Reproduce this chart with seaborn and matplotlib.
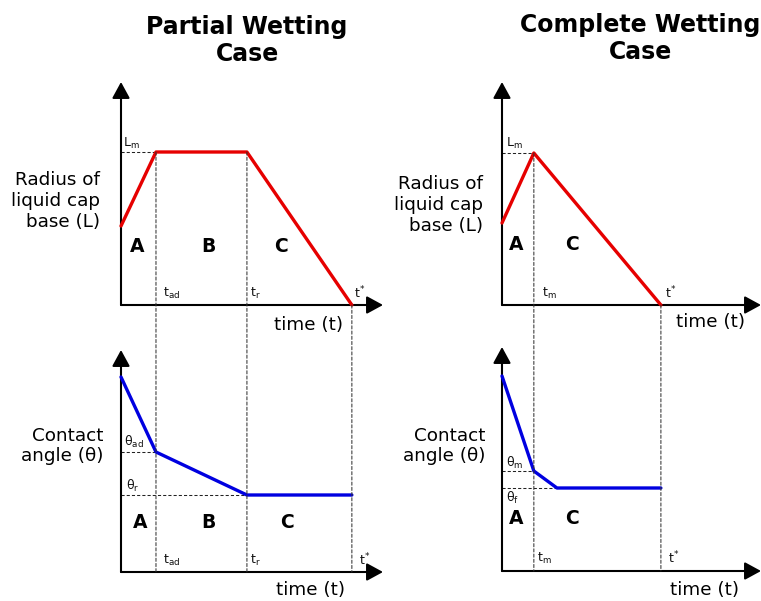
import matplotlib
matplotlib.use("Agg")
import matplotlib.pyplot as plt
import seaborn as sns
import pandas as pd
from matplotlib.patches import ConnectionPatch

# ---------------- data (arbitrary schematic units) ----------------
# Partial wetting case
pw_time = [0.0, 1.0, 3.6, 6.6]          # 0, t_ad, t_r, t*
pw_L = [0.79, 1.53, 1.53, 0.0]           # radius of liquid cap base
pw_theta = [1.95, 1.20, 0.77, 0.77]      # contact angle
pw_xmax = 7.49

# Complete wetting case
cw_time_L = [0.0, 0.91, 4.54]            # 0, t_m, t*
cw_L = [0.82, 1.52, 0.0]
cw_time_theta = [0.0, 0.91, 1.57, 4.54]
cw_theta = [1.95, 1.00, 0.83, 0.83]
cw_xmax = 7.4

pw_regions = ["A", "B", "C"]
cw_regions = ["A", "C"]
pw_tick_labels = [r"$t_{ad}$", r"$t_r$", r"$t^{*}$"]
cw_tick_labels = [r"$t_m$", r"$t^{*}$"]

# ---------------- style ----------------
sns.set_theme(style="white")
plt.rcParams["font.family"] = ["DejaVu Sans"]
plt.rcParams["mathtext.default"] = "regular"
plt.rcParams["text.color"] = "black"

RED = "#e60000"
BLUE = "#0000e0"
DASH = dict(color="#222222", lw=0.75, linestyle=(0, (3, 2)))
W, H = 761, 601
fig = plt.figure(figsize=(W / 100, H / 100), dpi=100)


def add_ax(left, bottom_px, right, top_px):
    # pixel box (top-down y) -> figure fraction
    return fig.add_axes([left / W, (H - bottom_px) / H, (right - left) / W, (bottom_px - top_px) / H])


def arrows(ax):
    kw = dict(arrowstyle="-|>,head_length=0.55,head_width=0.3", mutation_scale=18,
              lw=1.5, color="black", shrinkA=0, shrinkB=0)
    ax.annotate("", xy=(1, 0), xytext=(0, 0), xycoords="axes fraction",
                textcoords="axes fraction", arrowprops=kw, annotation_clip=False)
    ax.annotate("", xy=(0, 1), xytext=(0, 0), xycoords="axes fraction",
                textcoords="axes fraction", arrowprops=kw, annotation_clip=False)
    ax.set_axis_off()


ax_tl = add_ax(121, 305, 383, 82)
ax_bl = add_ax(121, 572, 383, 350)
ax_tr = add_ax(502, 305, 761, 82)
ax_br = add_ax(502, 571, 761, 347)

ax_tl.set_xlim(0, pw_xmax); ax_tl.set_ylim(0, 2.23)
ax_bl.set_xlim(0, pw_xmax); ax_bl.set_ylim(0, 2.22)
ax_tr.set_xlim(0, cw_xmax); ax_tr.set_ylim(0, 2.23)
ax_br.set_xlim(0, cw_xmax); ax_br.set_ylim(0, 2.24)

# curves
sns.lineplot(data=pd.DataFrame({"t": pw_time, "v": pw_L}), x="t", y="v", sort=False,
             ax=ax_tl, color=RED, lw=2.4, clip_on=False, zorder=5)
sns.lineplot(data=pd.DataFrame({"t": pw_time, "v": pw_theta}), x="t", y="v", sort=False,
             ax=ax_bl, color=BLUE, lw=2.4, clip_on=False, zorder=5)
sns.lineplot(data=pd.DataFrame({"t": cw_time_L, "v": cw_L}), x="t", y="v", sort=False,
             ax=ax_tr, color=RED, lw=2.4, clip_on=False, zorder=5)
sns.lineplot(data=pd.DataFrame({"t": cw_time_theta, "v": cw_theta}), x="t", y="v", sort=False,
             ax=ax_br, color=BLUE, lw=2.4, clip_on=False, zorder=5)

for ax in (ax_tl, ax_bl, ax_tr, ax_br):
    arrows(ax)

# horizontal dashed guides
ax_tl.plot([0, pw_time[1]], [pw_L[1], pw_L[1]], **DASH)
ax_bl.plot([0, pw_time[1]], [pw_theta[1], pw_theta[1]], **DASH)
ax_bl.plot([0, pw_time[2]], [pw_theta[2], pw_theta[2]], **DASH)
ax_tr.plot([0, cw_time_L[1]], [cw_L[1], cw_L[1]], **DASH)
ax_br.plot([0, cw_time_theta[1]], [cw_theta[1], cw_theta[1]], **DASH)
ax_br.plot([0, cw_time_theta[2]], [cw_theta[2], cw_theta[2]], **DASH)


def vline(ax_top, ax_bot, t, y_top):
    cp = ConnectionPatch(xyA=(t, y_top), coordsA=ax_top.transData,
                         xyB=(t, 0), coordsB=ax_bot.transData,
                         color="#333333", lw=0.75, linestyle=(0, (3, 2)), zorder=1)
    fig.add_artist(cp)


vline(ax_tl, ax_bl, pw_time[1], pw_L[1])
vline(ax_tl, ax_bl, pw_time[2], pw_L[2])
vline(ax_tl, ax_bl, pw_time[3], pw_L[3])
vline(ax_tr, ax_br, cw_time_L[1], cw_L[1])
vline(ax_tr, ax_br, cw_time_L[2], cw_L[2])

# region letters
bold = dict(fontsize=13.5, fontweight="bold", ha="center", va="center")
for lab, x in zip(pw_regions, [0.46, 2.49, 4.57]):
    ax_tl.text(x, 0.58, lab, **bold)
for lab, x in zip(pw_regions, [0.54, 2.49, 4.74]):
    ax_bl.text(x, 0.50, lab, **bold)
for lab, x in zip(cw_regions, [0.40, 2.0]):
    ax_tr.text(x, 0.60, lab, **bold)
    ax_br.text(x, 0.52, lab, **bold)

# time marker labels
small = dict(fontsize=9, va="center", ha="left", color="#111111")
for lab, x in zip(pw_tick_labels, [1.2, 3.69, 6.65]):
    ax_tl.text(x, 0.12, lab, **small)
for lab, x in zip(pw_tick_labels, [1.2, 3.69, 6.8]):
    ax_bl.text(x, 0.12, lab, **small)
for lab, x in zip(cw_tick_labels, [1.14, 4.67]):
    ax_tr.text(x, 0.12, lab, **small)
for lab, x in zip(cw_tick_labels, [1.0, 4.75]):
    ax_br.text(x, 0.13, lab, **small)

# value labels on y axes
ax_tl.text(0.06, 1.62, r"$L_m$", **small)
ax_tr.text(0.12, 1.62, r"$L_m$", **small)
ax_bl.text(0.1, 1.30, r"$\theta_{ad}$", **small)
ax_bl.text(0.14, 0.86, r"$\theta_r$", **small)
ax_br.text(0.12, 1.08, r"$\theta_m$", **small)
ax_br.text(0.12, 0.73, r"$\theta_f$", **small)

# axis titles
lab = dict(fontsize=13.2, ha="right", va="center", multialignment="right")
ax_tl.text(-0.08, 0.466, "Radius of\nliquid cap\nbase (L)", transform=ax_tl.transAxes, **lab)
ax_tr.text(-0.073, 0.448, "Radius of\nliquid cap\nbase (L)", transform=ax_tr.transAxes, **lab)
ax_bl.text(-0.065, 0.568, "Contact\nangle (θ)", transform=ax_bl.transAxes, **lab)
ax_br.text(-0.062, 0.558, "Contact\nangle (θ)", transform=ax_br.transAxes, **lab)

tlab = dict(fontsize=13.2, ha="center", va="center")
ax_tl.text(0.714, -0.09, "time (t)", transform=ax_tl.transAxes, **tlab)
ax_bl.text(0.725, -0.081, "time (t)", transform=ax_bl.transAxes, **tlab)
ax_tr.text(0.807, -0.076, "time (t)", transform=ax_tr.transAxes, **tlab)
ax_br.text(0.784, -0.085, "time (t)", transform=ax_br.transAxes, **tlab)

# panel titles
fig.text(247 / W, 1 - 40.5 / H, "Partial Wetting\nCase", fontsize=17, fontweight="bold",
         ha="center", va="center", multialignment="center")
fig.text(640 / W, 1 - 38.5 / H, "Complete Wetting\nCase", fontsize=17, fontweight="bold",
         ha="center", va="center", multialignment="center")

fig.savefig("out.png", dpi=100)
